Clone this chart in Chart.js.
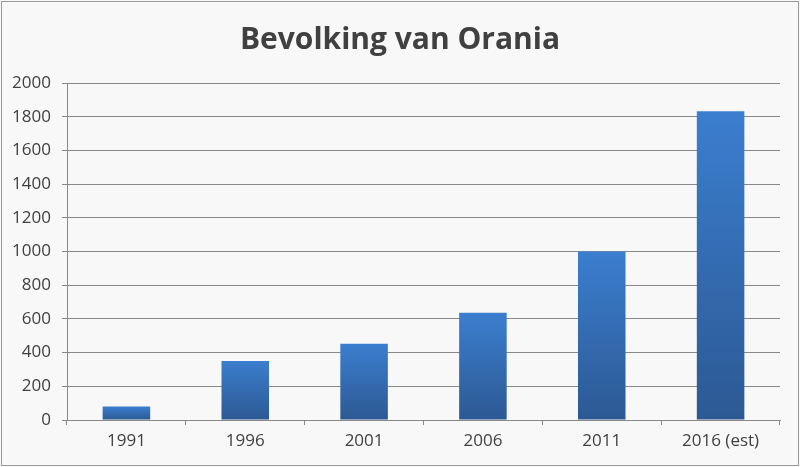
<!DOCTYPE html>
<html>
<head>
<meta charset="utf-8">
<script src="https://cdn.jsdelivr.net/npm/chart.js@4.4.1/dist/chart.umd.min.js"></script>
<style>
  html, body { margin: 0; padding: 0; background: #f8f8f8; }
  #wrap { width: 800px; height: 467px; position: relative; }
</style>
</head>
<body>
<div id="wrap"><canvas id="c" width="800" height="467"></canvas></div>
<script>
const categories = ['1991', '1996', '2001', '2006', '2011', '2016 (est)'];
const population = [80, 350, 452, 636, 1000, 1833];
const yTicks = [0, 200, 400, 600, 800, 1000, 1200, 1400, 1600, 1800, 2000];
const chartTitle = 'Bevolking van Orania';

const bgPlugin = {
  id: 'bg',
  beforeDraw(chart) {
    const c = chart.ctx;
    c.save();
    c.fillStyle = '#f8f8f8';
    c.fillRect(0, 0, chart.width, chart.height);
    c.restore();
  },
  afterDraw(chart) {
    const c = chart.ctx;
    c.save();
    c.strokeStyle = '#9a9a9a';
    c.lineWidth = 1;
    c.strokeRect(1.5, 1.5, chart.width - 3, chart.height - 3);
    c.restore();
  }
};

function barGradient(ctx) {
  const chart = ctx.chart;
  if (!chart.chartArea || ctx.raw === undefined) return '#3470bb';
  const ys = chart.scales.y;
  const top = ys.getPixelForValue(ctx.raw);
  const bottom = ys.getPixelForValue(0);
  const g = chart.ctx.createLinearGradient(0, top, 0, bottom);
  g.addColorStop(0, '#3b7ecf');
  g.addColorStop(1, '#2c5993');
  return g;
}

new Chart(document.getElementById('c'), {
  type: 'bar',
  data: {
    labels: categories,
    datasets: [{
      data: population,
      backgroundColor: barGradient,
      borderWidth: 0,
      barPercentage: 1,
      categoryPercentage: 0.4
    }]
  },
  plugins: [bgPlugin],
  options: {
    responsive: false,
    animation: false,
    devicePixelRatio: 1,
    layout: { padding: { left: 0, right: 0, top: 0, bottom: 0 } },
    plugins: {
      legend: { display: false },
      tooltip: { enabled: false },
      title: {
        display: true,
        text: chartTitle,
        color: '#404040',
        font: { family: 'Open Sans', size: 30, weight: 'bold' },
        padding: { top: 22, bottom: 25 }
      }
    },
    scales: {
      x: {
        grid: { display: true, drawOnChartArea: false, drawTicks: true, tickLength: 5, color: '#888888', offset: true },
        border: { display: true, color: '#888888', width: 1 },
        ticks: { color: '#404040', font: { family: 'Open Sans', size: 17 }, padding: 6, maxRotation: 0 },
        afterFit(scale) { scale.height = 47; }
      },
      y: {
        min: 0,
        max: 2000,
        afterBuildTicks(scale) { scale.ticks = yTicks.map(v => ({ value: v })); },
        grid: { color: '#888888', tickLength: 5, drawTicks: true },
        border: { display: true, color: '#888888', width: 1 },
        ticks: {
          color: '#404040',
          font: { family: 'Open Sans', size: 17 },
          padding: 11,
          callback: (v) => String(v)
        },
        afterFit(scale) { scale.width = 67; }
      },
      yRight: {
        position: 'right',
        display: true,
        grid: { display: false, drawTicks: false },
        border: { display: false },
        ticks: { display: false },
        afterFit(scale) { scale.width = 20; }
      }
    }
  }
});
</script>
</body>
</html>
